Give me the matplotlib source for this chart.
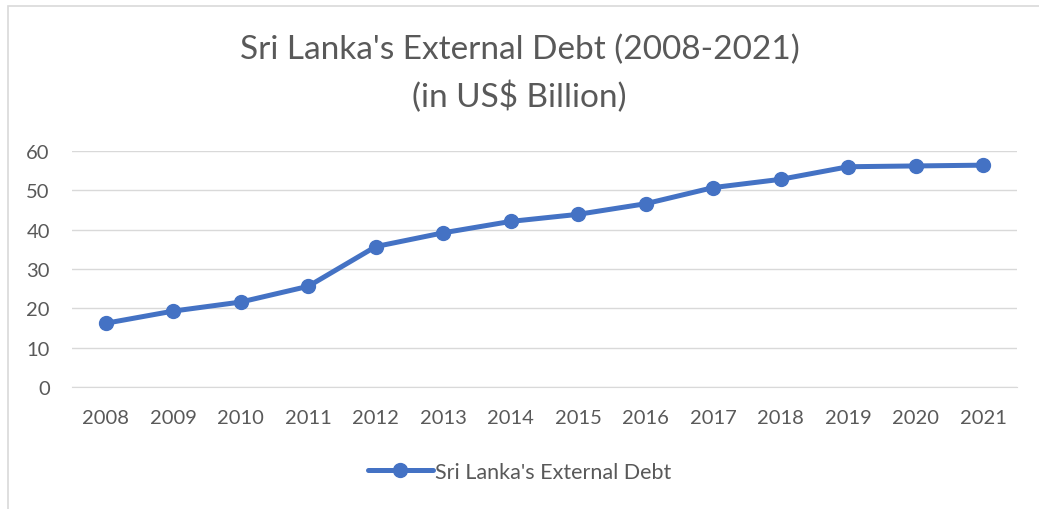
import matplotlib
matplotlib.use("Agg")
import matplotlib.pyplot as plt
from matplotlib.patches import Rectangle

years = ["2008", "2009", "2010", "2011", "2012", "2013", "2014",
         "2015", "2016", "2017", "2018", "2019", "2020", "2021"]
debt = [16.2, 19.3, 21.6, 25.6, 35.7, 39.2, 42.1,
        43.9, 46.6, 50.7, 52.8, 56.0, 56.2, 56.4]
yticks = [0, 10, 20, 30, 40, 50, 60]

W, H = 1039, 510
plt.rcParams['font.family'] = ['Lato', 'DejaVu Sans']
fig = plt.figure(figsize=(W / 100, H / 100), dpi=100)
fig.patch.set_facecolor('white')

# chart border (left and top visible; right/bottom fall outside the image)
fig.add_artist(Rectangle((8 / W, -0.05), 1.2, (H - 7) / H + 0.05,
                         transform=fig.transFigure, fill=False,
                         edgecolor='#d9d9d9', linewidth=1.2))

ax = fig.add_axes([72 / W, (H - 388) / H, 945 / W, 236 / H])
x = list(range(len(years)))
color = '#4472C4'
ax.plot(x, debt, color=color, linewidth=3.6, marker='o', markersize=10,
        label="Sri Lanka's External Debt", solid_capstyle='round', zorder=3)
ax.set_xlim(-0.5, len(years) - 0.5)
ax.set_ylim(0, 60)
ax.set_yticks(yticks)
ax.set_xticks(x)
ax.set_xticklabels(years)
ax.grid(axis='y', color='#d9d9d9', linewidth=1.0)
ax.set_axisbelow(True)
for s in ['top', 'right', 'left']:
    ax.spines[s].set_visible(False)
ax.spines['bottom'].set_color('#d9d9d9')
ax.tick_params(axis='both', length=0, labelsize=14.5, colors='#595959')
ax.tick_params(axis='x', pad=16)
ax.tick_params(axis='y', pad=16)

fig.text(0.5, (H - 50) / H, "Sri Lanka's External Debt (2008-2021)",
         ha='center', va='center', fontsize=24, color='#595959')
fig.text(0.5, (H - 97) / H, "(in US$ Billion)",
         ha='center', va='center', fontsize=24, color='#595959')

leg = fig.legend(loc='center', bbox_to_anchor=(0.5, (H - 473) / H),
                 frameon=False, handlelength=3.0,
                 handletextpad=0.1, labelcolor='#595959',
                 prop={'family': ['Lato', 'DejaVu Sans'], 'size': 15.5})
for h in leg.legend_handles:
    h.set_markersize(10)

fig.savefig('out.png', dpi=100, facecolor='white')
